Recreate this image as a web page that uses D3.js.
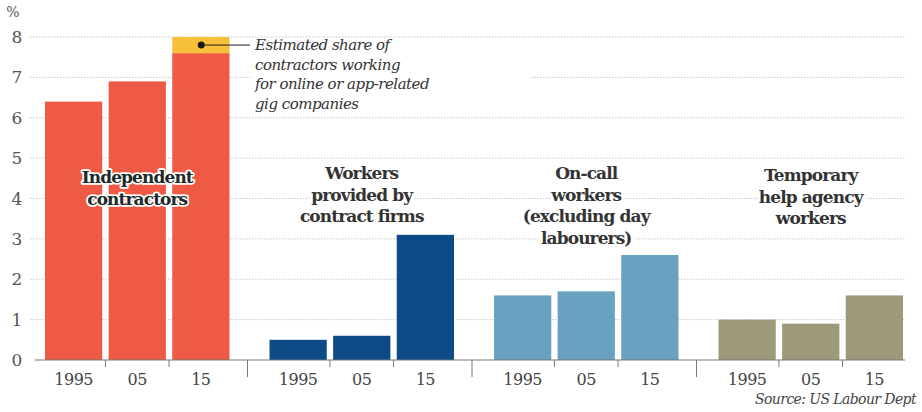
<!DOCTYPE html>
<html>
<head>
<meta charset="utf-8">
<script src="https://cdn.jsdelivr.net/npm/d3@7"></script>
<style>
  body { margin: 0; background: #fff; }
</style>
</head>
<body>
<svg width="922" height="412"></svg>
<script>
// Данные
const groups = ["Independent contractors", "Workers provided by contract firms",
                "On-call workers (excluding day labourers)", "Temporary help agency workers"];
const groupLines = [
  ["Independent", "contractors"],
  ["Workers", "provided by", "contract firms"],
  ["On-call", "workers", "(excluding day", "labourers)"],
  ["Temporary", "help agency", "workers"]
];
const years = ["1995", "05", "15"];
const values = [
  [6.4, 6.9, 7.6],
  [0.5, 0.6, 3.1],
  [1.6, 1.7, 2.6],
  [1.0, 0.9, 1.6]
];
const gigShare = 0.4; // жёлтая часть над 2015 у независимых подрядчиков
const colors = ["#ef5a45", "#0c4a88", "#68a2c0", "#9d9a7c"];
const yTicks = [0, 1, 2, 3, 4, 5, 6, 7, 8];
const noteLines = ["Estimated share of", "contractors working", "for online or app-related", "gig companies"];

const FONT = "'DejaVu Serif', 'Liberation Serif', serif";
const svg = d3.select("svg").attr("font-family", FONT);

const x0 = d3.scaleBand().domain(groups).range([25, 923]);
const x1 = d3.scaleBand().domain(years).range([20, x0.bandwidth() - 20]).paddingInner(0.1);
const y = d3.scaleLinear().domain([0, 8]).range([360, 37]);

// Сетка
svg.append("g").selectAll("line")
  .data(yTicks.filter(d => d > 0))
  .join("line")
  .attr("x1", 30).attr("x2", 905)
  .attr("y1", d => y(d)).attr("y2", d => y(d))
  .attr("stroke", "#c8c8c8")
  .attr("stroke-dasharray", "1.5,1.5");

// Подписи оси Y
svg.append("g").selectAll("text")
  .data(yTicks)
  .join("text")
  .attr("x", 17).attr("y", d => y(d) + 6)
  .attr("text-anchor", "middle")
  .attr("font-size", 17)
  .attr("fill", "#555")
  .text(d => d);
svg.append("text").attr("x", 13).attr("y", 17).attr("text-anchor", "middle")
  .attr("font-size", 14).attr("fill", "#555").text("%");

// Белый фон под примечанием
svg.append("rect").attr("x", 250).attr("y", 39).attr("width", 280).attr("height", 72).attr("fill", "#fff");

// Столбцы
const gSel = svg.append("g").selectAll("g")
  .data(groups)
  .join("g")
  .attr("transform", d => `translate(${x0(d)},0)`);

gSel.selectAll("rect")
  .data((d, i) => values[i].map((v, j) => ({v, year: years[j], gi: i})))
  .join("rect")
  .attr("x", d => x1(d.year))
  .attr("width", x1.bandwidth())
  .attr("y", d => y(d.v))
  .attr("height", d => y(0) - y(d.v))
  .attr("fill", d => colors[d.gi]);

// Доля гиг-компаний
const gx = x0(groups[0]) + x1("15");
svg.append("rect")
  .attr("x", gx).attr("width", x1.bandwidth())
  .attr("y", y(values[0][2] + gigShare))
  .attr("height", y(values[0][2]) - y(values[0][2] + gigShare))
  .attr("fill", "#f8c03a");

const dotY = y(values[0][2] + gigShare / 2);
svg.append("circle").attr("cx", gx + 29).attr("cy", dotY).attr("r", 3.5).attr("fill", "#1a1a1a");
svg.append("line").attr("x1", gx + 29).attr("x2", 250).attr("y1", dotY).attr("y2", dotY)
  .attr("stroke", "#1a1a1a").attr("stroke-width", 1);

svg.append("g").selectAll("text")
  .data(noteLines)
  .join("text")
  .attr("x", 255).attr("y", (d, i) => 50 + i * 19.5)
  .attr("font-size", 15).attr("font-style", "italic").attr("letter-spacing", -0.5)
  .attr("fill", "#333")
  .text(d => d);

// Ось X
svg.append("line").attr("x1", 35).attr("x2", 905).attr("y1", y(0)).attr("y2", y(0))
  .attr("stroke", "#777").attr("stroke-width", 1.2);

const tickData = [];
groups.forEach((g, i) => {
  if (i > 0) tickData.push({x: x0(g) - 2, len: 17});
  tickData.push({x: x0(g) + (x1("1995") + x1.bandwidth() + x1("05")) / 2, len: 7});
  tickData.push({x: x0(g) + (x1("05") + x1.bandwidth() + x1("15")) / 2, len: 7});
});
svg.append("g").selectAll("line")
  .data(tickData)
  .join("line")
  .attr("x1", d => d.x).attr("x2", d => d.x)
  .attr("y1", y(0)).attr("y2", d => y(0) + d.len)
  .attr("stroke", "#777");

gSel.selectAll("text.yr")
  .data(years)
  .join("text")
  .attr("class", "yr")
  .attr("x", d => x1(d) + x1.bandwidth() / 2)
  .attr("y", 385)
  .attr("text-anchor", "middle")
  .attr("font-size", 16)
  .attr("letter-spacing", -0.5)
  .attr("fill", "#444")
  .text(d => d);

// Названия групп
const labelTop = [177, 173, 173, 175];
gSel.each(function(d, i) {
  d3.select(this).append("g").selectAll("text")
    .data(groupLines[i])
    .join("text")
    .attr("x", x1("05") + x1.bandwidth() / 2)
    .attr("y", (t, k) => labelTop[i] + 6 + k * 21.5)
    .attr("text-anchor", "middle")
    .attr("font-size", 17)
    .attr("font-weight", "bold")
    .attr("letter-spacing", -0.9)
    .attr("fill", i === 0 ? "#1d2a2a" : "#333")
    .attr("stroke", "#fff")
    .attr("stroke-width", i === 0 ? 3.5 : 6)
    .attr("stroke-linejoin", "round")
    .attr("paint-order", "stroke")
    .text(t => t);
});

// Источник
svg.append("text").attr("x", 916).attr("y", 404).attr("text-anchor", "end")
  .attr("font-size", 14).attr("font-style", "italic").attr("letter-spacing", -0.6)
  .attr("fill", "#444")
  .text("Source: US Labour Dept");
</script>
</body>
</html>
